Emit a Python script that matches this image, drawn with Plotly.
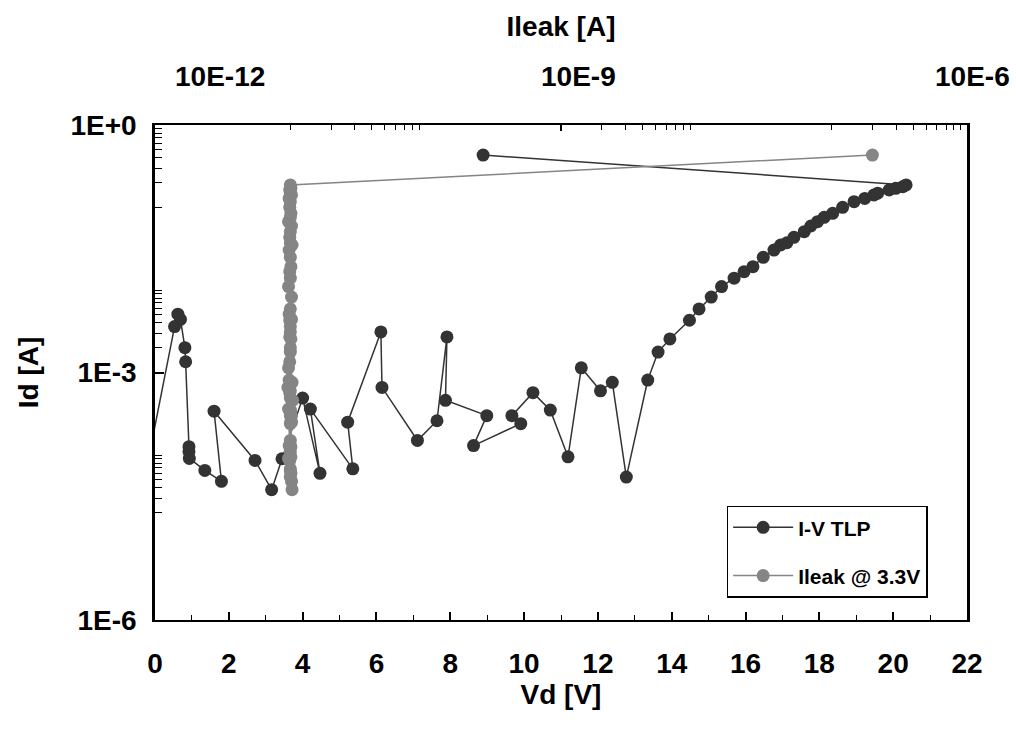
import math
import plotly.graph_objects as go

# ---- data ----
vd_tlp = [-0.21, -0.25, -0.25,
          0.53, 0.62, 0.69, 0.81, 0.83, 0.92, 0.92, 0.93, 1.35, 1.80,
          1.60, 2.71, 3.16, 3.44, 4.00, 4.47, 4.21, 5.36, 5.22, 6.12,
          6.15, 7.11, 7.64, 7.91, 7.87, 8.99, 8.63, 9.91, 9.67, 10.24,
          10.71, 11.19, 11.55, 12.07, 12.39, 12.77, 13.35, 13.63, 13.95, 14.48,
          14.74, 15.07, 15.35, 15.69, 15.96, 16.20, 16.48, 16.77, 16.95, 17.12,
          17.31, 17.59, 17.77, 17.95, 18.13, 18.36, 18.63, 18.94, 19.23, 19.48,
          19.58, 19.89, 20.07, 20.26, 20.35,
          8.89]
id_tlp = [4.0e-5, 4.0e-5, 6.1e-5,
          3.6e-3, 5.1e-3, 4.4e-3, 2.0e-3, 1.35e-3, 1.26e-4, 1.10e-4, 9.1e-5, 6.5e-5, 4.8e-5,
          3.4e-4, 8.6e-5, 3.8e-5, 9.0e-5, 4.9e-4, 6.0e-5, 3.6e-4, 6.8e-5, 2.5e-4, 3.1e-3,
          6.6e-4, 1.5e-4, 2.6e-4, 2.7e-3, 4.6e-4, 3.0e-4, 1.3e-4, 2.4e-4, 3.0e-4, 5.7e-4,
          3.5e-4, 9.5e-5, 1.14e-3, 6.0e-4, 7.6e-4, 5.4e-5, 8.1e-4, 1.77e-3, 2.55e-3, 4.3e-3,
          5.9e-3, 8.2e-3, 1.10e-2, 1.39e-2, 1.67e-2, 1.92e-2, 2.49e-2, 3.05e-2, 3.51e-2, 3.74e-2,
          4.35e-2, 5.09e-2, 5.97e-2, 6.73e-2, 7.60e-2, 8.51e-2, 0.1005, 0.1175, 0.129, 0.142,
          0.149, 0.163, 0.171, 0.179, 0.188,
          0.432]

ileak = [1.00e-10, 0.98e-10, 1.02e-10, 1.00e-10, 0.99e-10, 1.01e-10, 1.00e-10, 0.97e-10, 1.00e-10, 1.02e-10,
         1.00e-10, 0.99e-10, 1.03e-10, 0.98e-10, 1.00e-10, 1.01e-10, 0.97e-10, 1.00e-10, 1.02e-10, 1.00e-10,
         0.96e-10, 1.00e-10, 1.01e-10, 0.99e-10, 1.04e-10, 1.00e-10, 0.98e-10, 1.00e-10, 1.02e-10, 0.99e-10,
         1.00e-10, 1.01e-10, 0.97e-10, 1.00e-10, 1.03e-10, 1.00e-10, 0.98e-10, 1.00e-10, 1.01e-10, 0.99e-10,
         1.00e-10, 1.02e-10, 0.97e-10, 1.00e-10, 0.99e-10, 1.01e-10, 1.00e-10, 0.98e-10, 1.03e-10, 1.00e-10,
         0.99e-10, 1.00e-10, 1.02e-10, 0.97e-10, 1.00e-10, 1.01e-10, 0.99e-10, 1.00e-10, 0.98e-10, 1.02e-10,
         1.00e-10, 0.99e-10, 1.01e-10, 1.00e-10, 1.00e-10,
         2.0e-6]
# the leakage points share the Id of each in-range TLP pulse, then the post-failure point
id_leak = id_tlp[3:-1] + [0.432]

y_tick_vals = [1e0, 1e-3, 1e-6]
y_tick_text = ["1E+0", "1E-3", "1E-6"]
y_minor_vals = [2e-5, 3e-5, 4e-5, 5e-5, 6e-5, 7e-5, 8e-5, 9e-5, 1e-4,
                2e-3, 3e-3, 4e-3, 5e-3, 6e-3, 7e-3, 8e-3, 9e-3, 1e-2,
                1e-1, 2e-1, 3e-1, 4e-1, 5e-1, 6e-1, 7e-1, 8e-1, 9e-1]
top_minor_vals = [1e-10, 2e-10, 3e-10, 4e-10, 5e-10, 6e-10, 7e-10, 8e-10, 9e-10,
                  1e-8, 2e-8, 3e-8, 4e-8, 5e-8, 6e-8, 7e-8, 8e-8, 9e-8,
                  1e-6, 2e-6, 3e-6, 4e-6, 5e-6, 6e-6, 7e-6, 8e-6, 9e-6]
top_range = [-11, -5]
top_tick_labels = ["10E-12", "10E-9", "10E-6"]
top_label_at = [3.0e-11, 1.35e-8, 1.09e-5]

FONT = "Liberation Sans, Arial, sans-serif"
DARK = "#333333"
GRAY = "#858585"

fig = go.Figure()
fig.add_trace(go.Scatter(
    x=vd_tlp, y=id_tlp, mode="lines+markers", name="I-V TLP",
    legendgroup="a",
    line=dict(color=DARK, width=1.5),
    marker=dict(color=DARK, size=13),
    xaxis="x", yaxis="y",
))
fig.add_trace(go.Scatter(
    x=ileak, y=id_leak, mode="lines+markers", name="Ileak @ 3.3V",
    legendgroup="b",
    line=dict(color=GRAY, width=1.5),
    marker=dict(color=GRAY, size=13),
    xaxis="x2", yaxis="y",
))

span = top_range[1] - top_range[0]
for lab, pos in zip(top_tick_labels, top_label_at):
    fig.add_annotation(x=(math.log10(pos) - top_range[0]) / span, xref="paper",
                       y=1.097, yref="paper",
                       text=lab, showarrow=False, xanchor="center", yanchor="middle",
                       font=dict(family=FONT, size=28, color="black", weight="bold"))

fig.update_layout(
    width=1016, height=738,
    margin=dict(l=155, r=49, t=125, b=118),
    paper_bgcolor="white", plot_bgcolor="white",
    showlegend=True,
    legend=dict(x=0.704, y=0.231, xanchor="left", yanchor="top",
                bordercolor="black", borderwidth=1.5, bgcolor="white",
                tracegroupgap=18, traceorder="grouped",
                itemwidth=60, entrywidth=236, entrywidthmode="pixels",
                font=dict(family=FONT, size=21, color="black", weight="bold")),
    xaxis=dict(
        range=[0, 22], dtick=2, tick0=0,
        ticks="inside", ticklen=8, tickwidth=1.5, tickcolor="black",
        minor=dict(dtick=1, ticks="inside", ticklen=5, tickwidth=1.2, tickcolor="black"),
        showline=True, linecolor="black", linewidth=2, mirror=True,
        showgrid=False, zeroline=False,
        tickfont=dict(family=FONT, size=28, color="black", weight="bold"),
        ticklabelstandoff=17,
        title=dict(text="Vd [V]", standoff=6,
                   font=dict(family=FONT, size=28, color="black", weight="bold")),
    ),
    xaxis2=dict(
        type="log", range=top_range, overlaying="x", side="top", anchor="y",
        tickmode="array", tickvals=[1e-11, 1e-8, 1e-5], showticklabels=False,
        ticks="inside", ticklen=6, tickwidth=1.5, tickcolor="black",
        minor=dict(tickmode="array", tickvals=top_minor_vals, ticks="inside",
                   ticklen=5, tickwidth=1.2, tickcolor="black"),
        showline=True, linecolor="black", linewidth=2,
        showgrid=False, zeroline=False,
        title=dict(text="Ileak [A]", standoff=78,
                   font=dict(family=FONT, size=28, color="black", weight="bold")),
    ),
    yaxis=dict(
        type="log", range=[-6, 0],
        tickmode="array", tickvals=y_tick_vals, ticktext=y_tick_text,
        ticks="inside", ticklen=9, tickwidth=1.5, tickcolor="black",
        minor=dict(tickmode="array", tickvals=y_minor_vals, ticks="inside",
                   ticklen=7, tickwidth=1.2, tickcolor="black"),
        showline=True, linecolor="black", linewidth=2.5, mirror=True,
        showgrid=False, zeroline=False,
        tickfont=dict(family=FONT, size=28, color="black", weight="bold"),
        ticklabelstandoff=10,
        title=dict(text="Id [A]", standoff=24,
                   font=dict(family=FONT, size=28, color="black", weight="bold")),
    ),
)

fig.write_html("out.html")
